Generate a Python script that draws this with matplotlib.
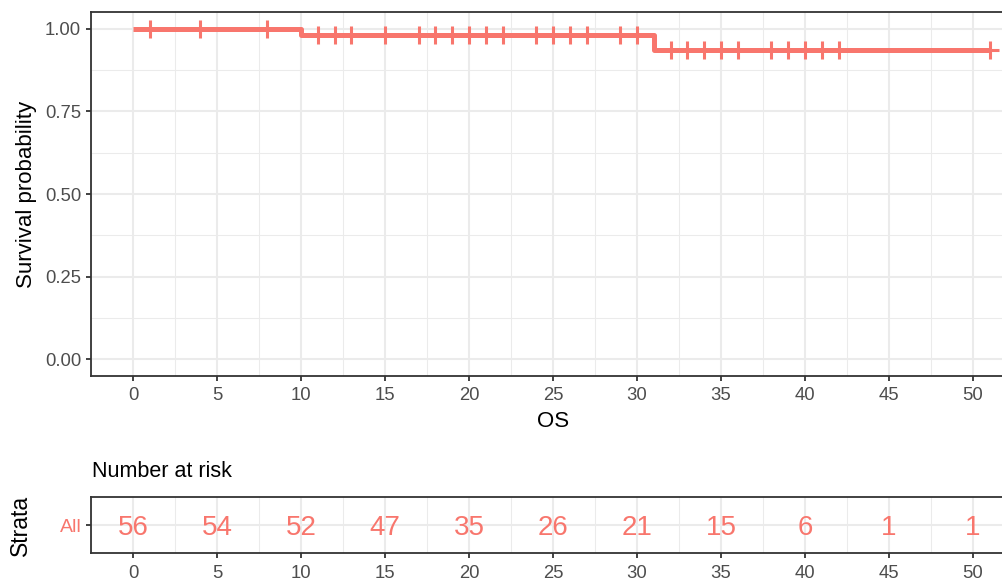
import numpy as np
import matplotlib
matplotlib.use("Agg")
import matplotlib.pyplot as plt
from matplotlib.ticker import MultipleLocator

# ---- data ----
step_times = [0, 10, 31, 51]
step_surv = [1.0, 0.982, 0.935, 0.935]
censor_times = [1, 4, 8, 11, 12, 13, 15, 17, 18, 19, 20, 21, 22, 24, 25, 26,
                27, 29, 30, 32, 33, 34, 35, 36, 38, 39, 40, 41, 42, 51]
risk_times = [0, 5, 10, 15, 20, 25, 30, 35, 40, 45, 50]
risk_counts = [56, 54, 52, 47, 35, 26, 21, 15, 6, 1, 1]
y_ticks = [0.0, 0.25, 0.50, 0.75, 1.00]
y_tick_labels = ["0.00", "0.25", "0.50", "0.75", "1.00"]
strata_label = "All"

plt.rcParams['font.family'] = ['Liberation Sans', 'DejaVu Sans']

RED = '#F8766D'
GRID = '#EBEBEB'
TICKC = '#4D4D4D'
BORDER = '#333333'

W, H = 1003, 582
fig = plt.figure(figsize=(W / 100, H / 100), dpi=100)

def fx(px):
    return px / W

def fy(py):
    return 1 - py / H

# main axes: pixel left 91, right 1015, top 12, bottom 376
ax = fig.add_axes([fx(91), fy(376), fx(1015 - 91), (376 - 12) / H])
ax.set_xlim(-2.5, 52.5)
ax.set_ylim(-0.05, 1.05)

def style(a):
    for s in a.spines.values():
        s.set_color(BORDER)
        s.set_linewidth(1.3)
    a.set_facecolor('white')
    a.grid(which='major', color=GRID, linewidth=1.5, zorder=0)
    a.grid(which='minor', color=GRID, linewidth=0.75, zorder=0)
    a.set_axisbelow(True)
    a.tick_params(which='major', length=3.8, width=1.3, color='#333333',
                  labelcolor=TICKC, labelsize=13.3, pad=4)
    a.tick_params(which='minor', length=0)

style(ax)
ax.xaxis.set_major_locator(MultipleLocator(5))
ax.xaxis.set_minor_locator(MultipleLocator(2.5))
ax.set_yticks(y_ticks)
ax.set_yticklabels(y_tick_labels)
ax.yaxis.set_minor_locator(MultipleLocator(0.125))
ax.tick_params(axis='y', pad=3.3)

ax.step(step_times, step_surv, where='post', color=RED, linewidth=3.6,
        solid_capstyle='butt', zorder=3)
idx = np.searchsorted(step_times, censor_times, side='right') - 1
cy = np.array(step_surv)[idx]
ax.plot(censor_times, cy, linestyle='none', marker='+', markersize=13,
        markeredgewidth=2.2, color=RED, zorder=4)

ax.set_xlabel("OS", fontsize=16, labelpad=5)
ax.set_ylabel("Survival probability", fontsize=16, labelpad=6)

# risk table axes: top 497, bottom 553
rax = fig.add_axes([fx(91), fy(553), fx(1015 - 91), (553 - 497) / H])
rax.set_xlim(-2.5, 52.5)
rax.set_ylim(0.4, 1.6)
style(rax)
rax.xaxis.set_major_locator(MultipleLocator(5))
rax.xaxis.set_minor_locator(MultipleLocator(2.5))
rax.set_yticks([1])
rax.set_yticklabels([strata_label])
rax.tick_params(axis='y', labelcolor=RED, labelsize=14, pad=3)
rax.tick_params(axis='x', pad=5)
rax.grid(which='minor', axis='y', visible=False)
for t, n in zip(risk_times, risk_counts):
    rax.text(t, 1, str(n), ha='center', va='center_baseline', color=RED,
             fontsize=20, zorder=5)
rax.set_ylabel("Strata", fontsize=16.5, labelpad=20)

fig.text(fx(92), fy(477), "Number at risk", fontsize=15.5, ha='left',
         va='baseline', color='black')

fig.savefig("out.png", dpi=100)
